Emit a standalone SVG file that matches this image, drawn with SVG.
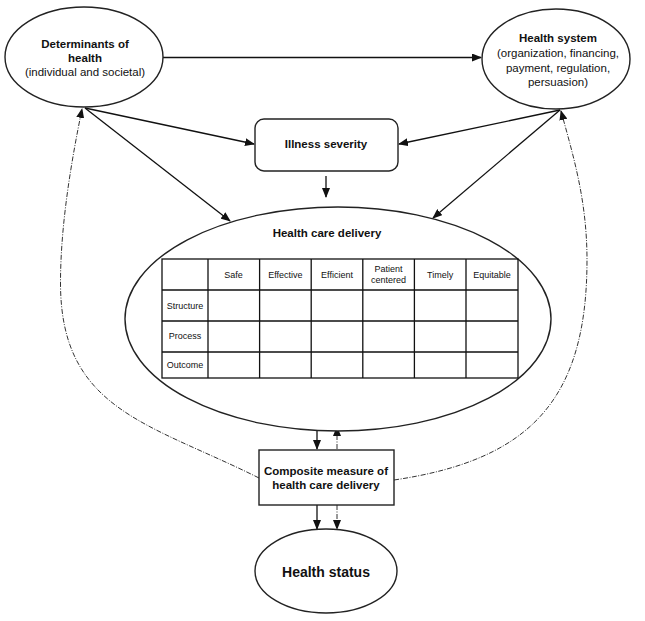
<svg xmlns="http://www.w3.org/2000/svg" width="645" height="621" viewBox="0 0 645 621">
<style>
.shape{fill:#fff;stroke:#222;stroke-width:1.4}
.t{font-family:"Liberation Sans",Arial,sans-serif;fill:#111;text-anchor:middle}
.b{font-weight:bold;font-size:11.5px}
.n{font-size:11.5px}
.s{font-size:9px}
.grid{fill:none;stroke:#111;stroke-width:1.3}
.arr{fill:none;stroke:#111;stroke-width:1.3;marker-end:url(#ah)}
.dd{fill:none;stroke:#333;stroke-width:1;stroke-dasharray:5,1.5,1,1.5;marker-end:url(#ah)}
</style>
<defs>
<marker id="ah" markerUnits="userSpaceOnUse" markerWidth="10" markerHeight="8" refX="9" refY="4" orient="auto">
<path d="M0,0 L10,4 L0,8 z" fill="#111"/>
</marker>
</defs>
<rect width="645" height="621" fill="#fff"/>
<g id="connectors">
<line class="arr" x1="163" y1="57.5" x2="481" y2="57.5"/>
<line class="arr" x1="85" y1="108" x2="254" y2="144"/>
<line class="arr" x1="85" y1="108" x2="230" y2="221"/>
<line class="arr" x1="560" y1="110" x2="399" y2="144"/>
<line class="arr" x1="560" y1="110" x2="433" y2="218"/>
<line class="arr" x1="326" y1="176" x2="326" y2="197"/>
<line class="arr" x1="317" y1="429" x2="317" y2="449"/>
<line class="dd" x1="337" y1="449" x2="337" y2="427"/>
<line class="arr" x1="317" y1="505" x2="317" y2="529"/>
<line class="dd" x1="337" y1="505" x2="337" y2="529"/>
<path class="dd" d="M259,478 C149,423 60.5,410 60.5,283 C60.5,223 72,158 82,109"/>
<path class="dd" d="M394,480 C530,460 587,400 587,260 C587,200 573,155 561,111"/>
</g>
<g id="determinants">
<ellipse class="shape" cx="84" cy="57" rx="79" ry="50"/>
<text class="t b" x="85" y="48">Determinants of</text>
<text class="t b" x="85" y="62">health</text>
<text class="t n" x="85" y="76">(individual and societal)</text>
</g>
<g id="health-system">
<ellipse class="shape" cx="556" cy="59" rx="74" ry="50"/>
<text class="t b" x="558" y="42">Health system</text>
<text class="t n" x="558" y="57">(organization, financing,</text>
<text class="t n" x="558" y="72">payment, regulation,</text>
<text class="t n" x="558" y="86">persuasion)</text>
</g>
<g id="illness-severity">
<rect class="shape" x="255" y="119" width="143" height="52" rx="9"/>
<text class="t b" x="326" y="148">Illness severity</text>
</g>
<g id="health-care-delivery">
<ellipse class="shape" cx="338" cy="319" rx="213" ry="112"/>
<text class="t b" x="327" y="237">Health care delivery</text>
<rect class="grid" x="162" y="259" width="356" height="119"/>
<path class="grid" d="M208,259V378M259.6,259V378M311.2,259V378M362.8,259V378M414.4,259V378M466,259V378M162,290H518M162,321H518M162,352H518"/>
<text class="t s" x="233.5" y="278">Safe</text>
<text class="t s" x="285.4" y="278">Effective</text>
<text class="t s" x="337" y="278">Efficient</text>
<text class="t s" x="388.6" y="272">Patient</text>
<text class="t s" x="388.6" y="283">centered</text>
<text class="t s" x="440.2" y="278">Timely</text>
<text class="t s" x="492" y="278">Equitable</text>
<text class="t s" x="185" y="309">Structure</text>
<text class="t s" x="185" y="339">Process</text>
<text class="t s" x="185" y="368">Outcome</text>
</g>
<g id="composite">
<rect class="shape" x="259" y="450" width="135" height="55"/>
<text class="t b" x="326" y="475">Composite measure of</text>
<text class="t b" x="326" y="489">health care delivery</text>
</g>
<g id="health-status">
<ellipse class="shape" cx="326" cy="571" rx="71" ry="42"/>
<text class="t" style="font-weight:bold;font-size:14px" x="326" y="577">Health status</text>
</g>
</svg>
